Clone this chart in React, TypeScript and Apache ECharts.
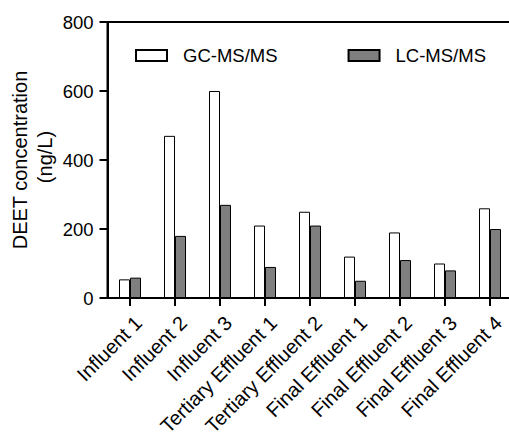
import React, { useEffect, useRef } from "react";
import * as echarts from "echarts";

const categories = [
  "Influent 1",
  "Influent 2",
  "Influent 3",
  "Tertiary Effluent 1",
  "Tertiary Effluent 2",
  "Final Effluent 1",
  "Final Effluent 2",
  "Final Effluent 3",
  "Final Effluent 4",
];
const gcValues = [54, 470, 600, 210, 250, 120, 190, 100, 260];
const lcValues = [59, 180, 270, 90, 210, 50, 110, 80, 200];
const yTicks = [0, 200, 400, 600, 800];
const yTitleLines = ["DEET concentration", "(ng/L)"];

const FONT = "'Liberation Sans', Arial, Helvetica, sans-serif";
const FS = 18.5;

export default function App() {
  const ref = useRef<HTMLDivElement>(null);
  useEffect(() => {
    if (!ref.current) return;
    const chart = echarts.init(ref.current, null, { renderer: "svg" });
    chart.setOption({
      animation: false,
      backgroundColor: "#ffffff",
      grid: {
        left: 107.5,
        width: 405,
        top: 22,
        height: 276,
        containLabel: false,
        outerBoundsMode: "none",
        show: true,
        borderColor: "#000000",
        borderWidth: 2,
        backgroundColor: "transparent",
      },
      legend: {
        left: 130,
        top: 41,
        itemWidth: 31,
        itemHeight: 11,
        itemGap: 70,
        icon: "rect",
        textStyle: { fontFamily: FONT, fontSize: FS, color: "#000", padding: [0, 0, 0, 11] },
        data: ["GC-MS/MS", "LC-MS/MS"],
      },
      graphic: [
        {
          type: "text",
          x: 20,
          y: 160,
          rotation: Math.PI / 2,
          style: {
            text: yTitleLines[0],
            fontFamily: FONT,
            fontSize: 20,
            fill: "#000",
            textAlign: "center",
            textVerticalAlign: "middle",
          },
        },
        {
          type: "text",
          x: 45,
          y: 157,
          rotation: Math.PI / 2,
          style: {
            text: yTitleLines[1],
            fontFamily: FONT,
            fontSize: 20,
            fill: "#000",
            textAlign: "center",
            textVerticalAlign: "middle",
          },
        },
      ],
      xAxis: {
        type: "category",
        data: categories,
        position: "bottom",
        axisLine: { show: true, onZero: false, lineStyle: { color: "#000000", width: 2 } },
        axisTick: { show: true, alignWithLabel: true, length: 8, lineStyle: { color: "#000000", width: 2 } },
        axisLabel: {
          rotate: 45,
          interval: 0,
          margin: 13,
          align: "right",
          verticalAlign: "top",
          lineHeight: 24,
          fontFamily: FONT,
          fontSize: 20,
          color: "#000",
        },
      },
      yAxis: {
        type: "value",
        min: yTicks[0],
        max: yTicks[yTicks.length - 1],
        interval: 200,
        axisLine: { show: true, onZero: false, lineStyle: { color: "#000000", width: 2 } },
        axisTick: { show: true, length: 8, lineStyle: { color: "#000000", width: 2 } },
        axisLabel: { margin: 14, fontFamily: FONT, fontSize: FS, color: "#000" },
        splitLine: { show: false },
      },
      series: [
        {
          name: "GC-MS/MS",
          type: "bar",
          data: gcValues,
          barWidth: 11,
          barGap: "0%",
          itemStyle: { color: "#ffffff", borderColor: "#000", borderWidth: 1 },
        },
        {
          name: "LC-MS/MS",
          type: "bar",
          data: lcValues,
          barWidth: 11,
          barGap: "0%",
          itemStyle: { color: "#7f7f7f", borderColor: "#000", borderWidth: 1 },
        },
      ],
    });
    return () => chart.dispose();
  }, []);
  return (
    <div
      ref={ref}
      style={{ position: "fixed", left: 0, top: 0, width: 509, height: 440 }}
    />
  );
}
